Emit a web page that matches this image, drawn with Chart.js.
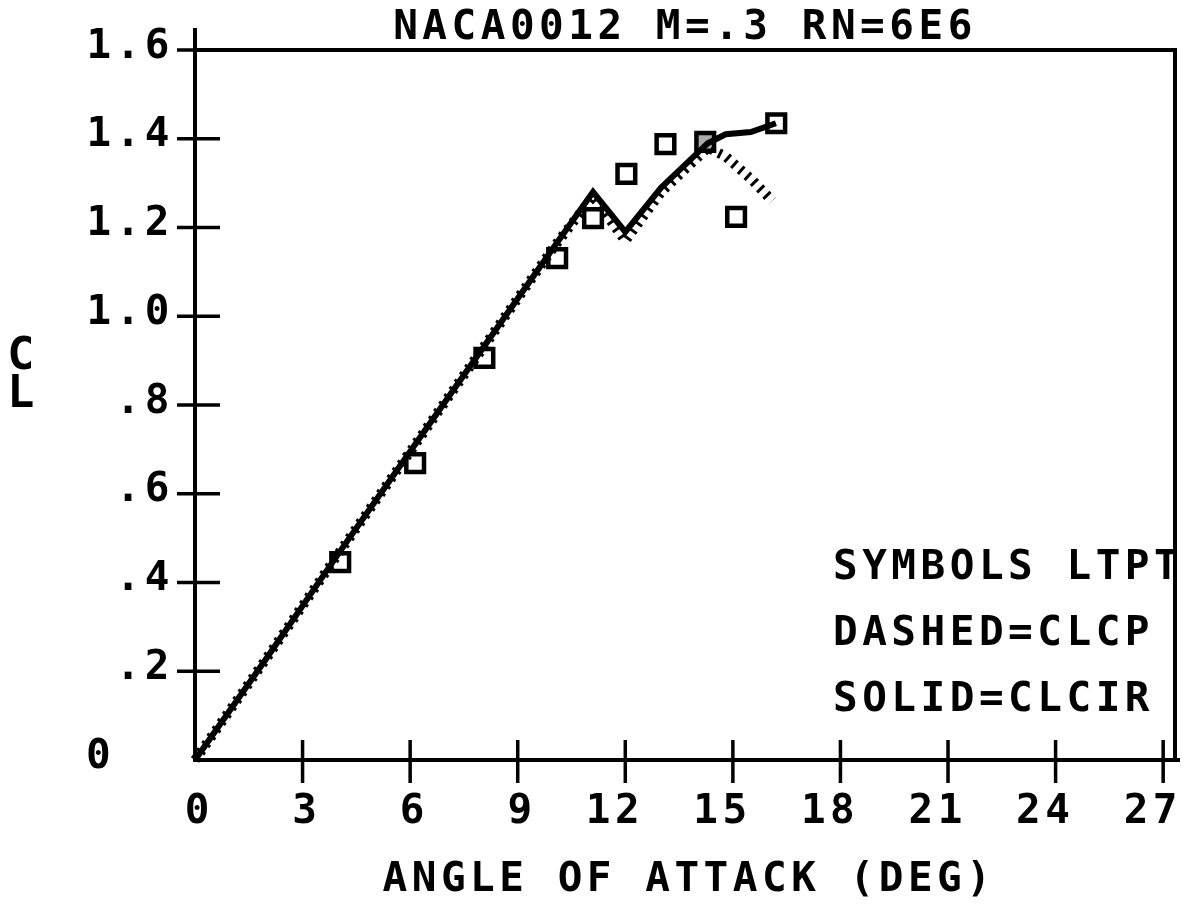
<!DOCTYPE html>
<html>
<head>
<meta charset="utf-8">
<title>NACA0012 M=.3 RN=6E6</title>
<script src="https://cdn.jsdelivr.net/npm/chart.js@4.4.1/dist/chart.umd.min.js"></script>
<style>
    html, body { margin: 0; padding: 0; background: #fff; overflow: hidden; }
    #clChart { display: block; width: 1192px; height: 920px; }
</style>
</head>
<body>
<canvas id="clChart" width="1192" height="920"></canvas>
<script>
// angle of attack (deg) / lift coefficient
const ltptAlpha = [4.05, 6.14, 8.07, 10.1, 11.1, 12.03, 13.12, 14.23, 15.09, 16.21];
const ltptCl    = [0.446, 0.669, 0.906, 1.131, 1.221, 1.321, 1.388, 1.393, 1.224, 1.435];

const clcirAlpha = [0, 2, 4, 6, 8, 10, 11.1, 12, 13, 14.3, 14.8, 15.5, 16.2];
const clcirCl    = [0, 0.23, 0.465, 0.695, 0.925, 1.155, 1.28, 1.19, 1.29, 1.39, 1.41, 1.415, 1.435];

const clcpAlpha = [0, 2, 4, 6, 8, 10, 11.1, 12, 13, 14.3, 14.8, 15.5, 16.1];
const clcpCl    = [0, 0.23, 0.465, 0.695, 0.925, 1.155, 1.27, 1.17, 1.28, 1.38, 1.36, 1.31, 1.26];

const xTicks = [0, 3, 6, 9, 12, 15, 18, 21, 24, 27];
const yTicks = [0, 0.2, 0.4, 0.6, 0.8, 1.0, 1.2, 1.4, 1.6];
const yTickLabels = ['0', '.2', '.4', '.6', '.8', '1.0', '1.2', '1.4', '1.6'];

const chartTitle = 'NACA0012 M=.3 RN=6E6';
const xTitle = 'ANGLE OF ATTACK (DEG)';
const yTitle = ['C', 'L'];
const noteLines = ['SYMBOLS LTPT', 'DASHED=CLCP', 'SOLID=CLCIR'];

const toPoints = (xs, ys) => xs.map((x, i) => ({ x: x, y: ys[i] }));

const FONT = 'bold 41px "DejaVu Sans Mono", monospace';
const SPACING = 4.5;
const INK = '#000';

// frame, crossing ticks and all the plotter text
const plotterDecor = {
    id: 'plotterDecor',
    beforeDatasetsDraw(chart) {
        const { ctx, chartArea: a, scales: { x, y } } = chart;
        ctx.save();
        ctx.strokeStyle = INK;
        ctx.lineWidth = 4;
        ctx.lineCap = 'square';
        ctx.beginPath();
        ctx.moveTo(a.left, a.top - 20);
        ctx.lineTo(a.left, a.bottom);
        ctx.lineTo(a.right + 3, a.bottom);
        ctx.moveTo(a.left, a.top);
        ctx.lineTo(a.right, a.top);
        ctx.lineTo(a.right, a.bottom);
        ctx.stroke();

        ctx.lineWidth = 3.5;
        ctx.lineCap = 'butt';
        ctx.beginPath();
        xTicks.forEach(v => {
            if (v === 0) return;
            const px = x.getPixelForValue(v);
            ctx.moveTo(px, a.bottom - 20);
            ctx.lineTo(px, a.bottom + 23);
        });
        yTicks.forEach(v => {
            if (v === 0) return;
            const py = y.getPixelForValue(v);
            ctx.moveTo(a.left - 18, py);
            ctx.lineTo(a.left + 25, py);
        });
        ctx.stroke();
        ctx.restore();
    },
    afterDraw(chart) {
        const { ctx, chartArea: a, scales: { x, y } } = chart;
        ctx.save();
        ctx.fillStyle = INK;
        ctx.font = FONT;
        ctx.letterSpacing = '0px';
        const adv = ctx.measureText('0').width;
        ctx.letterSpacing = SPACING + 'px';
        ctx.textBaseline = 'middle';

        // y tick labels
        yTicks.forEach((v, i) => {
            const py = y.getPixelForValue(v) - 3;
            if (v === 0) {
                ctx.textAlign = 'left';
                ctx.fillText(yTickLabels[i], 86, py);
            } else {
                ctx.textAlign = 'right';
                ctx.fillText(yTickLabels[i], a.left - 21, py);
            }
        });

        // x tick labels: last digit sits under the tick
        ctx.textAlign = 'left';
        xTicks.forEach(v => {
            const s = String(v);
            const left = x.getPixelForValue(v) + 2 - (s.length - 1) * (adv + SPACING) - adv / 2;
            ctx.fillText(s, left, a.bottom + 52);
        });

        ctx.textAlign = 'center';
        const mid = (a.left + a.right) / 2;
        ctx.fillText(chartTitle, mid, a.top - 22);
        ctx.fillText(xTitle, mid + 4, a.bottom + 120);

        ctx.font = 'bold 45px "DejaVu Sans Mono", monospace';
        ctx.fillText(yTitle[0], 23, 357);
        ctx.fillText(yTitle[1], 23, 395);

        ctx.font = FONT;
        ctx.textAlign = 'left';
        noteLines.forEach((t, i) => {
            ctx.fillText(t, 833, 568 + i * 66);
        });
        ctx.restore();
    }
};

const ctx = document.getElementById('clChart').getContext('2d');
new Chart(ctx, {
    type: 'line',
    data: {
        datasets: [
            {
                label: 'CLCIR',
                data: toPoints(clcirAlpha, clcirCl),
                borderColor: INK,
                borderWidth: 6,
                pointRadius: 0,
                tension: 0,
                clip: false
            },
            {
                label: 'CLCP',
                data: toPoints(clcpAlpha, clcpCl),
                borderColor: INK,
                borderWidth: 10,
                borderDash: [3, 6],
                borderCapStyle: 'butt',
                pointRadius: 0,
                tension: 0,
                clip: false
            },
            {
                label: 'LTPT',
                data: toPoints(ltptAlpha, ltptCl),
                showLine: false,
                pointStyle: 'rect',
                pointRadius: 12.5,
                pointBorderWidth: 4.5,
                pointBorderColor: INK,
                pointBackgroundColor: ltptAlpha.map((a, i) => i === 7 ? '#aaa' : '#fff'),
                clip: false
            }
        ]
    },
    options: {
        responsive: false,
        animation: false,
        layout: { padding: { left: 195, top: 50, right: 5, bottom: 160 } },
        plugins: {
            legend: { display: false },
            tooltip: { enabled: false }
        },
        scales: {
            x: { type: 'linear', display: false, min: 0, max: 27.33 },
            y: { type: 'linear', display: false, min: 0, max: 1.6 }
        }
    },
    plugins: [plotterDecor]
});
</script>
</body>
</html>
